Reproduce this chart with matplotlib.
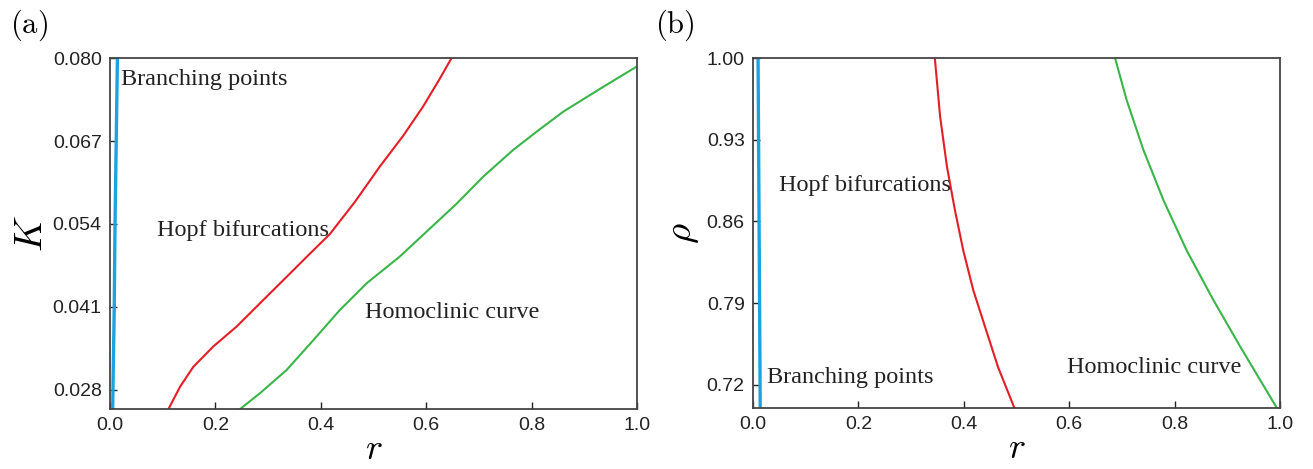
import matplotlib
matplotlib.use('Agg')
import matplotlib.pyplot as plt

plt.rcParams['mathtext.fontset'] = 'cm'
plt.rcParams['font.family'] = ['Liberation Sans', 'DejaVu Sans']

# panel (a): r vs K
a_branch_r = [0.005, 0.008, 0.0095, 0.014]
a_branch_K = [0.025, 0.041, 0.054, 0.080]
a_hopf_r = [0.111, 0.133, 0.158, 0.196, 0.240, 0.291, 0.335, 0.380, 0.417,
            0.465, 0.512, 0.557, 0.594, 0.626, 0.648]
a_hopf_K = [0.0250, 0.0285, 0.0316, 0.0348, 0.0379, 0.0421, 0.0457, 0.0494, 0.0524,
            0.0575, 0.0630, 0.0679, 0.0724, 0.0768, 0.080]
a_homo_r = [0.247, 0.285, 0.335, 0.386, 0.436, 0.487, 0.550, 0.658, 0.708,
            0.765, 0.810, 0.860, 0.936, 1.0]
a_homo_K = [0.0250, 0.0275, 0.0311, 0.0358, 0.0405, 0.0447, 0.0489, 0.0572, 0.0614,
            0.0656, 0.0685, 0.0716, 0.0755, 0.0787]
a_yticks = [0.028, 0.041, 0.054, 0.067, 0.080]

# panel (b): r vs rho
b_branch_r = [0.0137, 0.0096]
b_branch_rho = [0.70, 1.00]
b_hopf_r = [0.345, 0.355, 0.368, 0.383, 0.399, 0.418, 0.440, 0.465, 0.496]
b_hopf_rho = [1.000, 0.950, 0.907, 0.870, 0.835, 0.801, 0.770, 0.735, 0.700]
b_homo_r = [0.687, 0.709, 0.741, 0.779, 0.823, 0.873, 0.924, 0.994]
b_homo_rho = [1.000, 0.964, 0.921, 0.878, 0.835, 0.793, 0.753, 0.700]
b_yticks = [0.72, 0.79, 0.86, 0.93, 1.00]

xticks = [0.0, 0.2, 0.4, 0.6, 0.8, 1.0]

blue = '#1aa3e0'
red = '#e41e26'
green = '#3ab54a'

fig = plt.figure(figsize=(13.13, 4.69), dpi=100)
ax1 = fig.add_axes([0.0838, 0.128, 0.4013, 0.748])
ax2 = fig.add_axes([0.5735, 0.130, 0.4014, 0.746])


def style(ax):
    for s in ax.spines.values():
        s.set_color('#444444')
        s.set_linewidth(1.3)
    ax.tick_params(direction='in', length=5, width=1, labelsize=14,
                   colors='#222222', pad=6)
    ax.set_xticks(xticks)
    ax.set_xticklabels(['%.1f' % t for t in xticks])
    ax.set_xlabel('$r$', fontsize=26, labelpad=-2)


ax1.plot(a_branch_r, a_branch_K, color=blue, lw=2.4)
ax1.plot(a_hopf_r, a_hopf_K, color=red, lw=1.5)
ax1.plot(a_homo_r, a_homo_K, color=green, lw=1.5)
ax1.set_xlim(0, 1)
ax1.set_ylim(0.025, 0.080)
ax1.set_yticks(a_yticks)
ax1.set_yticklabels(['%.3f' % t for t in a_yticks])
style(ax1)
ax1.set_ylabel('$K$', fontsize=28, labelpad=2)
serif = dict(family='Liberation Serif', fontsize=17.5, color='#222222', va='center')
ax1.text(0.021, 0.0766, 'Branching points', **serif)
ax1.text(0.089, 0.0530, 'Hopf bifurcations', **serif)
ax1.text(0.484, 0.0402, 'Homoclinic curve', **serif)

ax2.plot(b_branch_r, b_branch_rho, color=blue, lw=2.4)
ax2.plot(b_hopf_r, b_hopf_rho, color=red, lw=1.5)
ax2.plot(b_homo_r, b_homo_rho, color=green, lw=1.5)
ax2.set_xlim(0, 1)
ax2.set_ylim(0.70, 1.00)
ax2.set_yticks(b_yticks)
ax2.set_yticklabels(['%.2f' % t for t in b_yticks])
style(ax2)
ax2.set_ylabel(r'$\rho$', fontsize=28, labelpad=4)
ax2.text(0.049, 0.891, 'Hopf bifurcations', **serif)
ax2.text(0.027, 0.7266, 'Branching points', **serif)
ax2.text(0.596, 0.735, 'Homoclinic curve', **serif)

fig.text(0.0076, 0.946, r'$\mathrm{(a)}$', fontsize=22, va='center')
fig.text(0.4988, 0.946, r'$\mathrm{(b)}$', fontsize=22, va='center')

fig.savefig('out.png', dpi=100, facecolor='white')
